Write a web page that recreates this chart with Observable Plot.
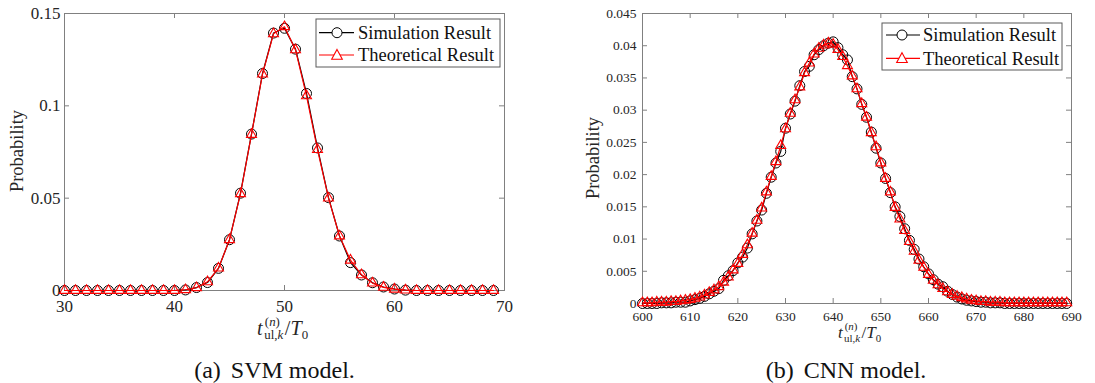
<!DOCTYPE html>
<html><head><meta charset="utf-8">
<script src="https://cdn.jsdelivr.net/npm/d3@7"></script>
<script src="https://cdn.jsdelivr.net/npm/@observablehq/plot@0.6"></script>
<style>
body{margin:0;background:#fff;font-family:"Liberation Serif","DejaVu Serif",serif;}
#root{position:relative;width:1095px;height:383px;overflow:hidden;background:#fff;}
.panel{position:absolute;top:0;}
#overlay{position:absolute;left:0;top:0;pointer-events:none;}
#overlay text, .panel text{font-family:"Liberation Serif","DejaVu Serif",serif !important;}
</style></head><body><div id="root"></div>
<script>
// ---------- (a) SVM model ----------
const svmX = d3.range(30, 70);
const svmSim = [0,0,0,0,0,0,0,0,0,0,0,0.0003,0.0016,0.0043,0.0120,0.0275,0.0527,0.0847,0.1175,0.1394,
  0.1420,0.1307,0.1067,0.0772,0.0503,0.0295,0.0151,0.0084,0.0042,0.0019,0.0008,0.0002,0,0,0,0,0,0,0,0];
const svmTheo = [0,0,0,0,0,0,0,0,0,0,0,0.0004,0.0015,0.0047,0.0121,0.0275,0.0524,0.0845,0.1172,0.1390,
  0.1428,0.1303,0.1054,0.0763,0.0500,0.0295,0.0164,0.0085,0.0040,0.0017,0.0007,0.0002,0,0,0,0,0,0,0,0];
const svmXTicks = [30, 40, 50, 60, 70];
const svmXTickLabels = ["30", "40", "50", "60", "70"];
const svmYTicks = [0, 0.05, 0.1, 0.15];
const svmYTickLabels = ["0", "0.05", "0.1", "0.15"];

// ---------- (b) CNN model ----------
const cnnX = d3.range(600, 690);
const cnnSim = [0,0,0,0,0.0001,0.0001,0.0001,0.0002,0.0002,0.0002,
  0.0004,0.0006,0.0008,0.0011,0.0015,0.0019,0.0023,0.0036,0.0043,0.0051,
  0.0063,0.0072,0.0086,0.0108,0.0128,0.0145,0.0171,0.0196,0.0218,0.0236,
  0.0272,0.0294,0.0314,0.0338,0.0360,0.0368,0.0386,0.0394,0.0400,0.0404,
  0.0406,0.0397,0.0386,0.0378,0.0352,0.0333,0.0309,0.0289,0.0266,0.0241,
  0.0218,0.0194,0.0172,0.0150,0.0135,0.0116,0.0098,0.0084,0.0069,0.0057,
  0.0046,0.0037,0.0030,0.0026,0.0019,0.0014,0.0010,0.0007,0.0005,0.0004,
  0.0003,0.0002,0.0002,0.0001,0.0001,0.0001,0,0,0,0,
  0,0,0,0,0,0,0,0,0,0];
const cnnTheo = [0.0001,0.0001,0.0001,0.0002,0.0002,0.0002,0.0003,0.0003,0.0004,0.0005,
  0.0006,0.0008,0.0010,0.0013,0.0017,0.0021,0.0026,0.0033,0.0041,0.0052,
  0.0062,0.0076,0.0091,0.0109,0.0129,0.0148,0.0173,0.0197,0.0220,0.0245,
  0.0271,0.0295,0.0316,0.0336,0.0358,0.0373,0.0387,0.0396,0.0401,0.0404,
  0.0402,0.0394,0.0383,0.0369,0.0353,0.0333,0.0310,0.0289,0.0265,0.0243,
  0.0218,0.0194,0.0173,0.0149,0.0131,0.0113,0.0096,0.0081,0.0067,0.0056,
  0.0045,0.0036,0.0029,0.0023,0.0018,0.0014,0.0011,0.0009,0.0007,0.0005,
  0.0004,0.0003,0.0003,0.0002,0.0002,0.0002,0.0001,0.0001,0.0001,0.0001,
  0.0001,0.0001,0.0001,0.0001,0.0001,0.0001,0.0001,0.0001,0.0001,0.0001];
const cnnXTicks = [600, 610, 620, 630, 640, 650, 660, 670, 680, 690];
const cnnXTickLabels = ["600","610","620","630","640","650","660","670","680","690"];
const cnnYTicks = [0, 0.005, 0.01, 0.015, 0.02, 0.025, 0.03, 0.035, 0.04, 0.045];
const cnnYTickLabels = ["0","0.005","0.01","0.015","0.02","0.025","0.03","0.035","0.04","0.045"];

const seriesNames = ["Simulation Result", "Theoretical Result"];
const RED = "#ff0000";
const FRAME = "#808080";
const FONT = "Liberation Serif, DejaVu Serif, serif";

function panel(o) {
  const fw = o.width - o.ml - o.mr, fh = o.height - o.mt - o.mb;
  const sim = o.xs.map((x, i) => ({x, y: o.sim[i]}));
  const theo = o.xs.map((x, i) => ({x, y: o.theo[i]}));
  const xl = d => o.xLabels[o.xTicks.indexOf(d)];
  const yl = d => o.yLabels[o.yTicks.indexOf(d)];
  return Plot.plot({
    width: o.width, height: o.height,
    marginLeft: o.ml, marginRight: o.mr, marginTop: o.mt, marginBottom: o.mb,
    style: {fontFamily: FONT, fontSize: o.fs + "px", color: "#262626", background: "transparent", overflow: "visible"},
    x: {domain: o.xDomain, axis: null},
    y: {domain: o.yDomain, axis: null},
    marks: [
      Plot.frame({stroke: FRAME, strokeWidth: 1}),
      Plot.tickX(o.xTicks, {x: d => d, stroke: FRAME, insetTop: fh - 5}),
      Plot.tickX(o.xTicks, {x: d => d, stroke: FRAME, insetBottom: fh - 5}),
      Plot.tickY(o.yTicks, {y: d => d, stroke: FRAME, insetRight: fw - 5}),
      Plot.tickY(o.yTicks, {y: d => d, stroke: FRAME, insetLeft: fw - 5}),
      Plot.axisX(o.xTicks, {tickSize: 0, tickPadding: o.xPad, tickFormat: xl, label: null, fill: "#262626"}),
      Plot.axisY(o.yTicks, {tickSize: 0, tickPadding: o.yPad, tickFormat: yl, label: null, fill: "#262626"}),
      Plot.line(sim, {x: "x", y: "y", stroke: "black", strokeWidth: 1.2}),
      Plot.dot(sim, {x: "x", y: "y", symbol: "circle", r: 5, stroke: "black", strokeWidth: 1, fill: "none"}),
      Plot.line(theo, {x: "x", y: "y", stroke: RED, strokeWidth: 1.2}),
      Plot.dot(theo, {x: "x", y: "y", symbol: "triangle", r: 3.7, stroke: RED, strokeWidth: 1.1, fill: "none"})
    ]
  });
}

const root = document.getElementById("root");
const left = panel({xs: svmX, sim: svmSim, theo: svmTheo, xDomain: [30, 70], yDomain: [0, 0.15],
  xTicks: svmXTicks, xLabels: svmXTickLabels, yTicks: svmYTicks, yLabels: svmYTickLabels,
  width: 540, height: 340, ml: 64, mr: 36, mt: 13, mb: 50, fs: 17, xPad: 9.5, yPad: 4});
left.classList.add("panel"); left.style.left = "0px";
root.appendChild(left);

const right = panel({xs: cnnX, sim: cnnSim, theo: cnnTheo, xDomain: [600, 690], yDomain: [0, 0.045],
  xTicks: cnnXTicks, xLabels: cnnXTickLabels, yTicks: cnnYTicks, yLabels: cnnYTickLabels,
  width: 535, height: 350, ml: 82, mr: 24, mt: 13, mb: 47, fs: 13.5, xPad: 8, yPad: 6});
right.classList.add("panel"); right.style.left = "560px";
root.appendChild(right);

// ---------- overlay text: axis titles, legends, captions ----------
function legend(x0, y0, w, h, rows, lineX1, lineX2, mx, tx) {
  let s = `<rect x="${x0}" y="${y0}" width="${w}" height="${h}" fill="#fff" stroke="#5a5a5a" stroke-width="1"/>`;
  const [r1, r2] = rows;
  s += `<line x1="${lineX1}" x2="${lineX2}" y1="${r1}" y2="${r1}" stroke="black" stroke-width="1.2"/>`;
  s += `<circle cx="${mx}" cy="${r1}" r="5" fill="#fff" stroke="black"/>`;
  s += `<text x="${tx}" y="${r1}" dy="0.35em" font-size="18.5" fill="#111">${seriesNames[0]}</text>`;
  s += `<line x1="${lineX1}" x2="${lineX2}" y1="${r2}" y2="${r2}" stroke="${RED}" stroke-width="1.2"/>`;
  const t = 5.6;
  s += `<path d="M${mx},${r2 - t} L${mx + t * 0.95},${r2 + t * 0.75} L${mx - t * 0.95},${r2 + t * 0.75} Z" fill="#fff" stroke="${RED}" stroke-width="1.1"/>`;
  s += `<text x="${tx}" y="${r2}" dy="0.35em" font-size="18.5" fill="#111">${seriesNames[1]}</text>`;
  return s;
}
function xTitle(x, y, k) {
  const f = 18 * k, s = 11.5 * k;
  return `<text x="${x}" y="${y}" font-size="${f}" fill="#262626"><tspan font-style="italic">t</tspan><tspan dx="${2*k}" dy="${-8*k}" font-size="${s}">(<tspan font-style="italic">n</tspan>)</tspan><tspan dx="${-14*k}" dy="${12*k}" font-size="${s}">ul,<tspan font-style="italic">k</tspan></tspan><tspan dx="${1.5*k}" dy="${-4*k}">/</tspan><tspan font-style="italic">T</tspan><tspan dy="${4*k}" font-size="${s}">0</tspan></text>`;
}
let ov = "";
ov += `<text transform="translate(17,151) rotate(-90)" text-anchor="middle" dy="0.35em" font-size="18.5" fill="#262626">Probability</text>`;
ov += `<text transform="translate(593,158) rotate(-90)" text-anchor="middle" dy="0.35em" font-size="18.5" fill="#262626">Probability</text>`;
ov += xTitle(257, 335, 1.12);
ov += xTitle(838, 338, 0.95);
ov += legend(316, 19, 184, 48, [32.7, 55], 319, 354, 337, 358);
ov += legend(882, 23, 180, 47, [35, 58.3], 886, 920, 902, 923);
ov += `<text x="274.5" y="378" text-anchor="middle" font-size="24" fill="#111">(a)<tspan dx="10">SVM model.</tspan></text>`;
ov += `<text x="846" y="378" text-anchor="middle" font-size="24" fill="#111">(b)<tspan dx="10">CNN model.</tspan></text>`;
const svg = `<svg id="overlay" width="1095" height="383">${ov}</svg>`;
root.insertAdjacentHTML("beforeend", svg);
</script></body></html>
